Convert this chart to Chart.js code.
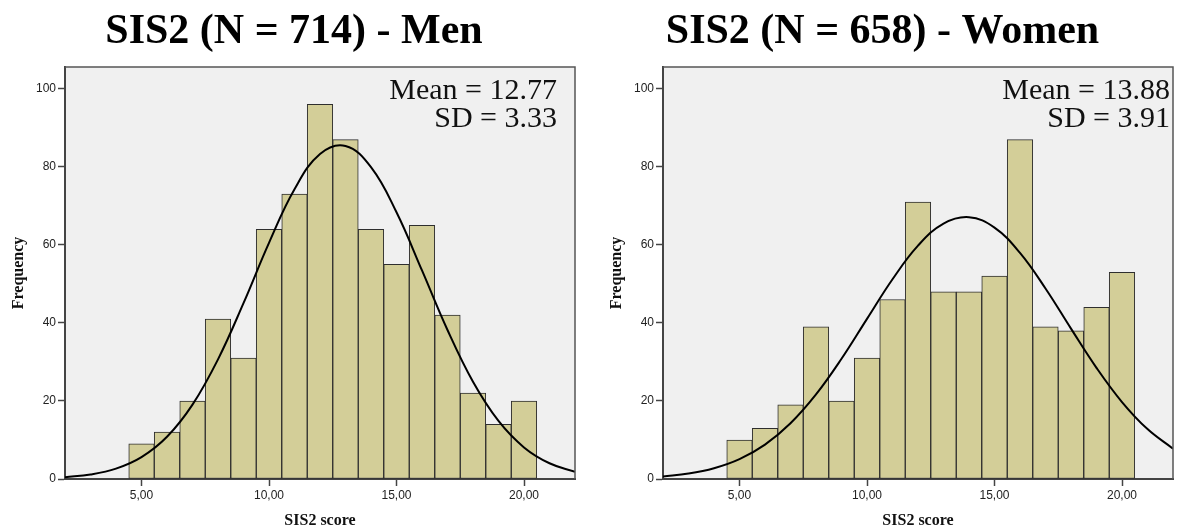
<!DOCTYPE html>
<html>
<head>
<meta charset="utf-8">
<script src="https://cdn.jsdelivr.net/npm/chart.js@4.4.1/dist/chart.umd.min.js"></script>
<style>
  html, body { margin: 0; padding: 0; background: #ffffff; }
  #wrap { position: relative; width: 1177px; height: 532px; overflow: hidden; }
  canvas { position: absolute; top: 0; }
  #c1 { left: 0; }
  #c2 { left: 588px; }
</style>
</head>
<body>
<div id="wrap">
  <canvas id="c1" width="588" height="532"></canvas>
  <canvas id="c2" width="589" height="532"></canvas>
</div>
<script>
// ---- Data ----
const binCenters = [5, 6, 7, 8, 9, 10, 11, 12, 13, 14, 15, 16, 17, 18, 19, 20];
const menFreq   = [9, 12, 20, 41, 31, 64, 73, 96, 87, 64, 55, 65, 42, 22, 14, 20];
const womenFreq = [10, 13, 19, 39, 20, 31, 46, 71, 48, 48, 52, 87, 39, 38, 44, 53];

// normal-curve heights at each score
const curveX = [2, 3, 4, 5, 6, 7, 8, 9, 10, 11, 12, 13, 14, 15, 16, 17, 18, 19, 20, 21, 22];
const menCurve   = [0.46, 1.16, 2.67, 5.62, 10.83, 19.07, 30.67, 45.08, 60.53, 74.27, 83.29, 85.35, 79.91, 68.36, 53.45, 38.18, 24.92, 14.87, 8.10, 4.03, 1.84];
const womenCurve = [0.66, 1.40, 2.76, 5.09, 8.81, 14.28, 21.67, 30.81, 41.04, 51.19, 59.81, 65.46, 67.11, 64.44, 57.96, 48.83, 38.54, 28.49, 19.73, 12.79, 7.77];

const xTicks = [5, 10, 15, 20];
const yTicks = [0, 20, 40, 60, 80, 100];
const xRange = [2, 22];
const yRange = [0, 105.6];

const titles = ['SIS2 (N = 714) - Men', 'SIS2 (N = 658) - Women'];
const statsMen   = ['Mean = 12.77', 'SD = 3.33'];
const statsWomen = ['Mean = 13.88', 'SD = 3.91'];
const xLabel = 'SIS2 score';
const yLabel = 'Frequency';

// ---- Helpers ----
const pairs = (xs, ys) => xs.map((x, i) => ({ x: x, y: ys[i] }));

const framePlugin = {
  id: 'frame',
  beforeDraw(chart) {
    const a = chart.chartArea, ctx = chart.ctx;
    ctx.save();
    ctx.fillStyle = '#f0f0f0';
    ctx.fillRect(a.left, a.top, a.right - a.left, a.bottom - a.top);
    ctx.restore();
  },
  afterDraw(chart, args, opts) {
    const a = chart.chartArea, ctx = chart.ctx;
    ctx.save();
    ctx.strokeStyle = '#555555';
    ctx.lineWidth = 1.5;
    ctx.beginPath();
    ctx.moveTo(a.left, a.top);
    ctx.lineTo(a.right, a.top);
    ctx.lineTo(a.right, a.bottom);
    ctx.stroke();
    // title
    ctx.fillStyle = '#000';
    ctx.textAlign = 'center';
    ctx.textBaseline = 'alphabetic';
    ctx.font = 'bold 42px "Liberation Serif", "Times New Roman", serif';
    ctx.fillText(opts.title, chart.width / 2, 43);
    // stats box text
    ctx.font = '30px "Liberation Serif", "Times New Roman", serif';
    ctx.textAlign = 'right';
    ctx.fillStyle = '#111';
    ctx.fillText(opts.stats[0], opts.statsRight, 99);
    ctx.fillText(opts.stats[1], opts.statsRight, 127);
    ctx.restore();
  }
};

function makeChart(id, freq, curve, title, stats, padLeft, padRight, statsRight) {
  return new Chart(document.getElementById(id), {
    data: {
      datasets: [
        {
          type: 'line',
          data: pairs(curveX, curve),
          borderColor: '#000000',
          borderWidth: 2,
          pointRadius: 0,
          tension: 0.4,
          fill: false,
          order: 0
        },
        {
          type: 'bar',
          data: pairs(binCenters, freq),
          backgroundColor: '#d3ce98',
          borderColor: '#2e2e2e',
          borderWidth: 1,
          borderSkipped: false,
          barPercentage: 1.0,
          categoryPercentage: 1.0,
          order: 1
        }
      ]
    },
    options: {
      responsive: false,
      animation: false,
      devicePixelRatio: 1,
      layout: { padding: { left: padLeft, right: padRight, top: 67, bottom: 0 } },
      plugins: {
        legend: { display: false },
        tooltip: { enabled: false },
        frame: { title: title, stats: stats, statsRight: statsRight }
      },
      scales: {
        x: {
          type: 'linear',
          min: xRange[0],
          max: xRange[1],
          offset: false,
          afterBuildTicks: s => { s.ticks = xTicks.map(v => ({ value: v })); },
          afterFit: s => { s.height = 53; },
          ticks: {
            autoSkip: false,
            maxRotation: 0,
            padding: 2,
            color: '#222',
            font: { family: '"Liberation Sans", Arial, sans-serif', size: 12 },
            callback: v => v.toFixed(2).replace('.', ',')
          },
          grid: { display: true, offset: false, drawOnChartArea: false, drawTicks: true, tickLength: 7, tickColor: '#444', tickWidth: 1.5 },
          border: { display: true, color: '#444', width: 2 },
          title: {
            display: true, text: xLabel, color: '#111',
            font: { family: '"Liberation Serif", "Times New Roman", serif', size: 16, weight: 'bold' },
            padding: { top: 0, bottom: 2 }
          }
        },
        y: {
          type: 'linear',
          min: yRange[0],
          max: yRange[1],
          afterBuildTicks: s => { s.ticks = yTicks.map(v => ({ value: v })); },
          afterFit: s => { s.width = 65; },
          ticks: {
            padding: 2,
            color: '#222',
            font: { family: '"Liberation Sans", Arial, sans-serif', size: 12 },
            callback: v => String(v)
          },
          grid: { display: true, drawOnChartArea: false, drawTicks: true, tickLength: 7, tickColor: '#444', tickWidth: 1.5 },
          border: { display: true, color: '#444', width: 2 },
          title: {
            display: true, text: yLabel, color: '#111',
            font: { family: '"Liberation Serif", "Times New Roman", serif', size: 16, weight: 'bold' },
            padding: { top: 9, bottom: 0 }
          }
        }
      }
    },
    plugins: [framePlugin]
  });
}

makeChart('c1', menFreq, menCurve, titles[0], statsMen, 0, 13, 557);
makeChart('c2', womenFreq, womenCurve, titles[1], statsWomen, 10, 4, 582);
</script>
</body>
</html>
